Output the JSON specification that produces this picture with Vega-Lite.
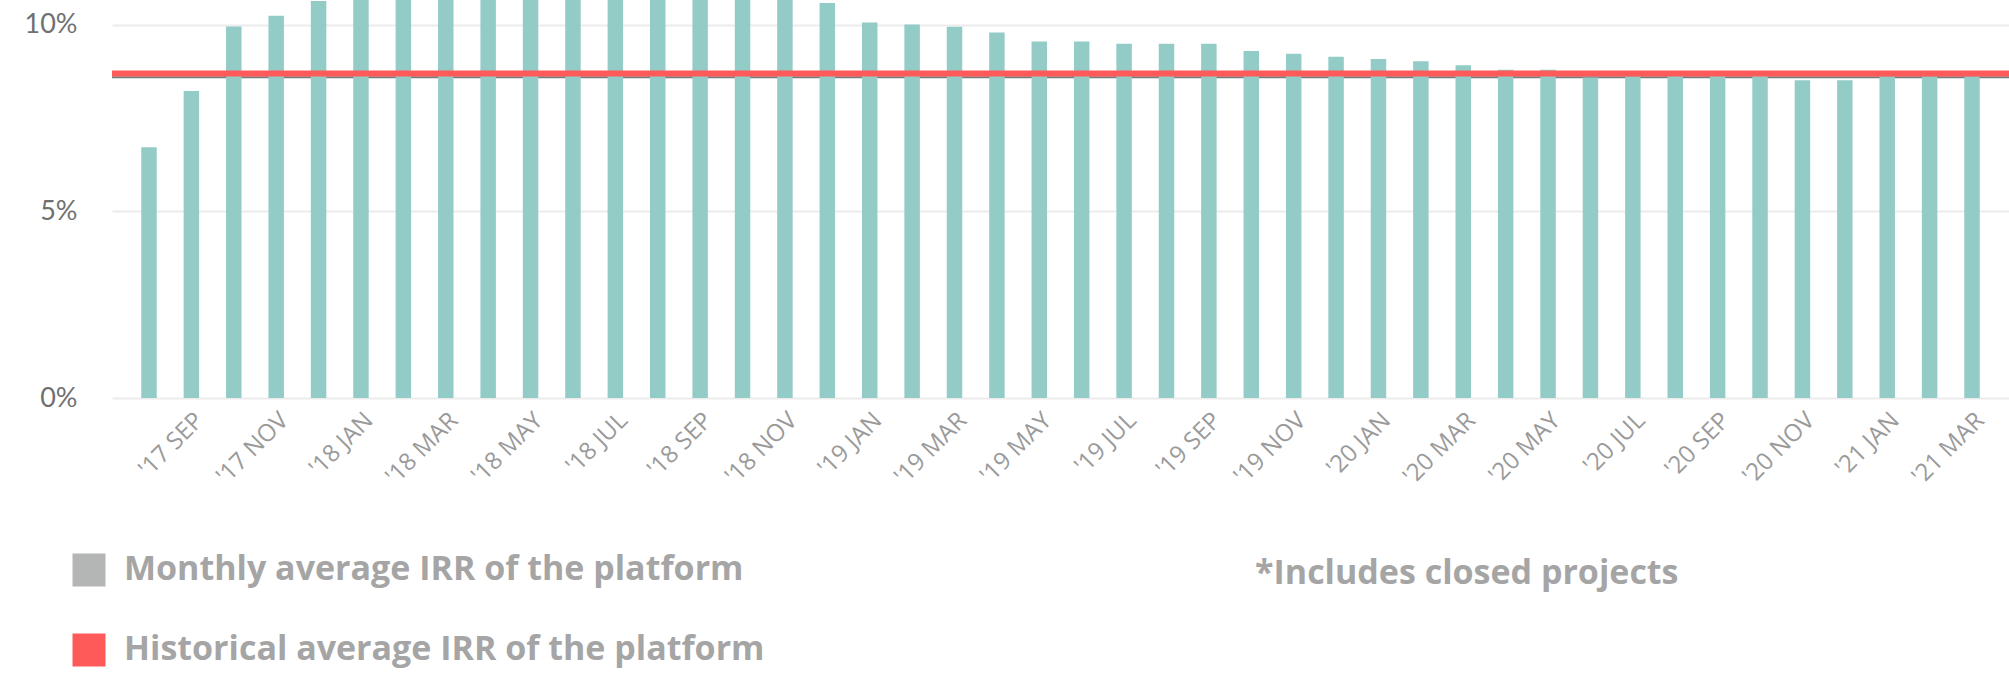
{
  "$schema": "https://vega.github.io/schema/vega-lite/v6.json",
  "width": 1897,
  "height": 398,
  "autosize": {"type": "none"},
  "padding": {"left": 112, "top": 0, "right": 0, "bottom": 277},
  "background": "white",
  "config": {"view": {"stroke": null}},
  "title": {
    "text": "*Includes closed projects",
    "orient": "bottom",
    "anchor": "start",
    "frame": "group",
    "dx": 1143,
    "offset": -110,
    "font": "Open Sans",
    "fontSize": 34,
    "fontWeight": "bold",
    "color": "#a5a5a5"
  },
  "layer": [
    {
      "data": {"values": [{"v": 8.6}]},
      "mark": {"type": "rule", "color": "#7a7a7a", "strokeWidth": 2},
      "encoding": {
        "y": {"field": "v", "type": "quantitative", "scale": {"domain": [0, 10.67], "nice": false},
          "axis": {
            "values": [0, 5, 10], "labelExpr": "datum.value + '%'",
            "grid": true, "gridColor": "#ececec", "gridWidth": 2,
            "domain": false, "ticks": false, "labelPadding": 35,
            "labelFont": "Lato", "labelFontSize": 27, "labelColor": "#707070", "title": null
          }}
      }
    },
    {
      "data": {"values": [
        {"m": "'17 AUG", "v": 6.72}, {"m": "'17 SEP", "v": 8.23}, {"m": "'17 OCT", "v": 9.96}, {"m": "'17 NOV", "v": 10.25},
        {"m": "'17 DEC", "v": 10.64}, {"m": "'18 JAN", "v": 11.0}, {"m": "'18 FEB", "v": 11.0}, {"m": "'18 MAR", "v": 11.0},
        {"m": "'18 APR", "v": 11.0}, {"m": "'18 MAY", "v": 11.0}, {"m": "'18 JUN", "v": 11.0}, {"m": "'18 JUL", "v": 11.0},
        {"m": "'18 AUG", "v": 11.0}, {"m": "'18 SEP", "v": 11.0}, {"m": "'18 OCT", "v": 11.0}, {"m": "'18 NOV", "v": 10.7},
        {"m": "'18 DEC", "v": 10.59}, {"m": "'19 JAN", "v": 10.07}, {"m": "'19 FEB", "v": 10.01}, {"m": "'19 MAR", "v": 9.95},
        {"m": "'19 APR", "v": 9.8}, {"m": "'19 MAY", "v": 9.56}, {"m": "'19 JUN", "v": 9.56}, {"m": "'19 JUL", "v": 9.5},
        {"m": "'19 AUG", "v": 9.5}, {"m": "'19 SEP", "v": 9.5}, {"m": "'19 OCT", "v": 9.3}, {"m": "'19 NOV", "v": 9.23},
        {"m": "'19 DEC", "v": 9.15}, {"m": "'20 JAN", "v": 9.09}, {"m": "'20 FEB", "v": 9.03}, {"m": "'20 MAR", "v": 8.92},
        {"m": "'20 APR", "v": 8.8}, {"m": "'20 MAY", "v": 8.8}, {"m": "'20 JUN", "v": 8.59}, {"m": "'20 JUL", "v": 8.62},
        {"m": "'20 AUG", "v": 8.66}, {"m": "'20 SEP", "v": 8.66}, {"m": "'20 OCT", "v": 8.66}, {"m": "'20 NOV", "v": 8.52},
        {"m": "'20 DEC", "v": 8.52}, {"m": "'21 JAN", "v": 8.62}, {"m": "'21 FEB", "v": 8.62}, {"m": "'21 MAR", "v": 8.62}
      ]},
      "mark": {"type": "bar", "color": "#93cbc6", "clip": true},
      "encoding": {
        "x": {
          "field": "m", "type": "ordinal", "sort": null,
          "scale": {"paddingInner": 0.635, "paddingOuter": 0.69},
          "axis": {
            "values": ["'17 SEP", "'17 NOV", "'18 JAN", "'18 MAR", "'18 MAY", "'18 JUL", "'18 SEP", "'18 NOV", "'19 JAN", "'19 MAR", "'19 MAY", "'19 JUL", "'19 SEP", "'19 NOV", "'20 JAN", "'20 MAR", "'20 MAY", "'20 JUL", "'20 SEP", "'20 NOV", "'21 JAN", "'21 MAR"],
            "labelAngle": -45, "labelFont": "Open Sans", "labelFontSize": 24, "labelColor": "#9a9a9a",
            "ticks": false, "domain": false, "grid": false, "labelPadding": 10, "title": null
          }
        },
        "y": {
          "field": "v", "type": "quantitative",
          "scale": {"domain": [0, 10.67], "nice": false},
          "axis": {
            "values": [0, 5, 10], "labelExpr": "datum.value + '%'",
            "grid": true, "gridColor": "#ececec", "gridWidth": 2,
            "domain": false, "ticks": false, "labelPadding": 35,
            "labelFont": "Lato", "labelFontSize": 27, "labelColor": "#707070", "title": null
          }
        }
      }
    },
    {
      "data": {"values": [{"avg": 8.7, "series": "Historical average IRR of the platform"}]},
      "mark": {"type": "rule", "strokeWidth": 6},
      "encoding": {
        "y": {"field": "avg", "type": "quantitative", "scale": {"domain": [0, 10.67], "nice": false},
          "axis": {
            "values": [0, 5, 10], "labelExpr": "datum.value + '%'",
            "grid": true, "gridColor": "#ececec", "gridWidth": 2,
            "domain": false, "ticks": false, "labelPadding": 35,
            "labelFont": "Lato", "labelFontSize": 27, "labelColor": "#707070", "title": null
          }},
        "color": {
          "field": "series", "type": "nominal",
          "scale": {"domain": ["Monthly average IRR of the platform", "Historical average IRR of the platform"], "range": ["#b3b6b5", "#ff5a5a"]},
          "legend": {
            "title": null, "orient": "none", "legendX": -40, "legendY": 553, "direction": "vertical",
            "padding": 0, "symbolType": "square", "symbolSize": 1089, "labelOffset": 18, "rowPadding": 46,
            "labelFont": "Open Sans", "labelFontSize": 34, "labelFontWeight": "bold", "labelColor": "#a5a5a5", "labelLimit": 1000,
            "encode": {"symbols": {"update": {
              "fill": {"scale": "color", "field": "value"},
              "stroke": {"scale": "color", "field": "value"},
              "strokeWidth": {"value": 0},
              "shape": {"value": "square"},
              "opacity": {"value": 1}
            }}}
          }
        }
      }
    }
  ]
}
